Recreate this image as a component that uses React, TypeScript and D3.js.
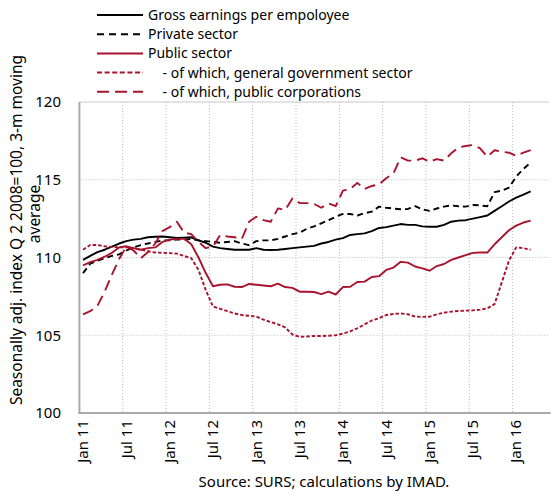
import React from "react";
import * as d3 from "d3";

// Monthly data, Jan 2011 ... Mar 2016 (63 months)
const grossEarnings = [
  109.85, 110.1, 110.35, 110.5, 110.7, 110.9, 111.05, 111.15, 111.2, 111.3, 111.33, 111.35,
  111.3, 111.25, 111.28, 111.3, 111.1, 110.95, 110.7, 110.6, 110.55, 110.5, 110.5, 110.5,
  110.6, 110.5, 110.48, 110.5, 110.55, 110.6, 110.65, 110.7, 110.75, 110.9, 111.0, 111.15,
  111.25, 111.45, 111.5, 111.55, 111.7, 111.9, 111.95, 112.05, 112.15, 112.1, 112.1, 112.0,
  111.98, 111.98, 112.1, 112.3, 112.37, 112.4, 112.5, 112.6, 112.7, 113.0, 113.3, 113.6,
  113.85, 114.05, 114.25,
];
const privateSector = [
  109.0, 109.6, 109.8, 109.95, 110.1, 110.2, 110.45, 110.65, 110.8, 110.9, 111.0, 111.1,
  111.1, 111.15, 111.15, 111.2, 111.1, 111.05, 111.0, 110.95, 111.0, 111.05, 110.9, 110.8,
  111.05, 111.1, 111.1, 111.2, 111.35, 111.5, 111.6, 111.85, 112.0, 112.2, 112.4, 112.62,
  112.8, 112.8, 112.7, 112.85, 112.95, 113.27, 113.2, 113.15, 113.1, 113.12, 113.3, 113.1,
  113.0, 113.15, 113.27, 113.35, 113.3, 113.27, 113.38, 113.35, 113.3, 114.2, 114.3, 114.5,
  115.2, 115.7, 116.1,
];
const publicSector = [
  109.5, 109.7, 109.85, 110.05, 110.3, 110.65, 110.72, 110.6, 110.5, 110.6, 110.65, 111.0,
  111.15, 111.2, 111.2, 110.85, 110.0, 109.0, 108.15, 108.25, 108.27, 108.12, 108.1, 108.3,
  108.25, 108.2, 108.15, 108.32, 108.1, 108.05, 107.8, 107.8, 107.78, 107.65, 107.8, 107.62,
  108.1, 108.12, 108.42, 108.45, 108.75, 108.8, 109.2, 109.35, 109.72, 109.67, 109.42, 109.3,
  109.15, 109.45, 109.58, 109.85, 110.0, 110.15, 110.3, 110.32, 110.32, 110.85, 111.3, 111.75,
  112.05, 112.25, 112.37,
];
const generalGovernment = [
  110.5, 110.8, 110.8, 110.72, 110.68, 110.65, 110.65, 110.6, 110.5, 110.4, 110.32, 110.3,
  110.28, 110.25, 110.1, 109.95, 109.2, 107.9, 106.85, 106.7, 106.55, 106.4, 106.3, 106.25,
  106.2, 106.0, 105.85, 105.7, 105.5, 105.05, 104.9, 104.92, 104.95, 104.95, 104.97, 105.0,
  105.1, 105.25, 105.45, 105.7, 105.95, 106.1, 106.3, 106.37, 106.4, 106.35, 106.2, 106.18,
  106.19, 106.35, 106.45, 106.52, 106.56, 106.58, 106.6, 106.65, 106.73, 107.0, 108.4, 109.8,
  110.65, 110.6, 110.5,
];
const publicCorporations = [
  106.35, 106.55, 106.9, 107.8, 108.9, 109.9, 110.7, 110.45, 109.95, 110.35, 110.9, 111.7,
  111.95, 112.3, 111.6, 111.5, 111.0, 110.6, 110.7, 111.45, 111.35, 111.3, 111.2, 112.3,
  112.62, 112.4, 112.3, 113.16, 113.05, 113.8, 113.5, 113.5, 113.45, 113.2, 113.48, 113.3,
  114.3, 114.4, 114.8, 114.4, 114.6, 114.7, 115.1, 115.4, 116.44, 116.23, 116.23, 116.38,
  116.16, 116.33, 116.23, 116.7, 117.08, 117.17, 117.23, 117.02, 116.48, 116.9, 116.8, 116.74,
  116.53, 116.75, 116.9,
];

const seriesNames = [
  "Gross earnings per empoloyee",
  "Private sector",
  "Public sector",
  "    - of which, general government sector",
  "    - of which, public corporations",
];
const tickLabels = ["Jan 11", "Jul 11", "Jan 12", "Jul 12", "Jan 13", "Jul 13", "Jan 14", "Jul 14", "Jan 15", "Jul 15", "Jan 16"];
const yTicks = [100, 105, 110, 115, 120];
const totalMonths = 65;

const RED = "#a8132d";
const FONT = "'Noto Sans', sans-serif";

export default function App() {
  const left = 79.4, right = 548.7, top = 102, bottom = 413;
  const x = d3.scaleLinear().domain([0, totalMonths]).range([left, right]);
  const y = d3.scaleLinear().domain([100, 120]).range([bottom, top]);

  const series = [
    { name: seriesNames[0], data: grossEarnings, color: "#000", dash: "" },
    { name: seriesNames[1], data: privateSector, color: "#000", dash: "6,4" },
    { name: seriesNames[2], data: publicSector, color: RED, dash: "" },
    { name: seriesNames[3], data: generalGovernment, color: RED, dash: "3.5,2" },
    { name: seriesNames[4], data: publicCorporations, color: RED, dash: "11,6" },
  ];
  const legendDash = ["", "7,5", "", "5,2.6", "12,6"];

  const line = d3
    .line<number>()
    .x((_, i) => x(i + 0.5))
    .y((d) => y(d));

  const tickIdx = tickLabels.map((_, k) => k * 6);

  return (
    <svg width={552} height={495} style={{ position: "absolute", left: 0, top: 0 }} fontFamily={FONT}>
      <rect width={552} height={495} fill="#fff" />
      {yTicks.slice(1, 4).map((t) => (
        <line key={t} x1={left} x2={right} y1={y(t)} y2={y(t)} stroke="#bbb" strokeWidth={1} strokeDasharray="1,2" />
      ))}
      <line x1={left} x2={right} y1={y(120)} y2={y(120)} stroke="#c8c8c8" strokeWidth={1} />
      {tickIdx.slice(1).map((m) => (
        <line key={m} x1={x(m)} x2={x(m)} y1={top} y2={bottom} stroke="#bbb" strokeWidth={1} strokeDasharray="1,2" />
      ))}
      <line x1={left} x2={left} y1={top} y2={bottom + 1} stroke="#aaa" strokeWidth={2} />
      <line x1={left - 1} x2={right + 2} y1={bottom} y2={bottom} stroke="#aaa" strokeWidth={2} />
      {yTicks.map((t) => (
        <text key={t} x={61} y={y(t)} dy="0.35em" textAnchor="end" fontSize={15} fill="#000">
          {t}
        </text>
      ))}
      {tickLabels.map((lab, k) => (
        <text
          key={lab}
          transform={`translate(${x(tickIdx[k] + 0.5)},${bottom + 7}) rotate(-90)`}
          textAnchor="end"
          dy="0.35em"
          fontSize={15}
          fill="#000"
        >
          {lab}
        </text>
      ))}
      {series.map((s) => (
        <path key={s.name} d={line(s.data) || ""} fill="none" stroke={s.color} strokeWidth={1.9} strokeDasharray={s.dash} strokeLinejoin="round" />
      ))}
      {series.map((s, i) => {
        const ly = 15 + i * 19.2;
        return (
          <g key={"lg" + i}>
            <line x1={97} x2={143} y1={ly} y2={ly} stroke={s.color} strokeWidth={2} strokeDasharray={legendDash[i]} />
            <text x={148} y={ly} dy="0.35em" fontSize={14} fill="#000" style={{ whiteSpace: "pre" }}>
              {s.name}
            </text>
          </g>
        );
      })}
      <text transform={`translate(22,230) rotate(-90)`} textAnchor="middle" fontSize={15.5} fill="#000">
        Seasonally adj. index Q 2 2008=100, 3-m moving
      </text>
      <text transform={`translate(40,214) rotate(-90)`} textAnchor="middle" fontSize={15.5} fill="#000">
        average
      </text>
      <text x={324} y={487} textAnchor="middle" fontSize={15} fill="#000">
        Source: SURS; calculations by IMAD.
      </text>
    </svg>
  );
}
